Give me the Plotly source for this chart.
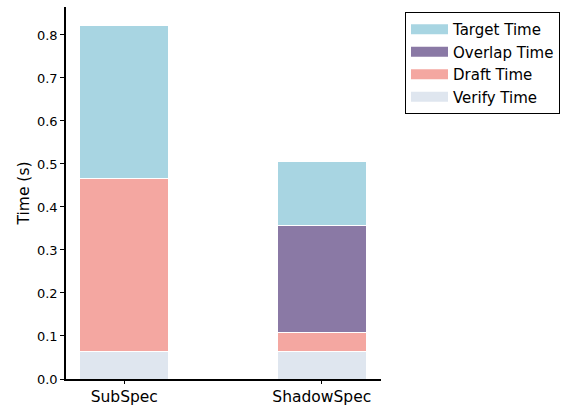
import plotly.graph_objects as go

# Per-method timing breakdown (seconds), stacked bottom to top
methods = ["SubSpec", "ShadowSpec"]
verify_time = [0.065, 0.065]
draft_time = [0.402, 0.043]
overlap_time = [None, 0.249]
target_time = [0.354, 0.148]

series = [
    ("Verify Time", verify_time, "#dfe6ef"),
    ("Draft Time", draft_time, "#f4a7a1"),
    ("Overlap Time", overlap_time, "#8a79a5"),
    ("Target Time", target_time, "#a8d5e2"),
]

fig = go.Figure()
for name, vals, color in series:
    fig.add_trace(go.Bar(
        x=[0, 1], y=vals, name=name, width=0.45, showlegend=False,
        marker=dict(color=color, line=dict(color="white", width=1)),
    ))
# Legend keys drawn as wide patches
for name, vals, color in series:
    fig.add_trace(go.Scatter(
        x=[None], y=[None], name=name, mode="lines",
        line=dict(color=color, width=10),
    ))

font = "DejaVu Sans, sans-serif"
fig.update_layout(
    barmode="stack",
    width=562, height=405,
    margin=dict(l=66, r=181, t=7, b=26, autoexpand=False),
    plot_bgcolor="white", paper_bgcolor="white",
    font=dict(family=font, size=13, color="black"),
    showlegend=True,
    legend=dict(
        traceorder="reversed",
        xref="container", yref="container",
        x=405 / 562, y=1 - 12 / 405, xanchor="left", yanchor="top",
        bordercolor="black", borderwidth=1,
        font=dict(size=15), bgcolor="white",
        itemwidth=37,
    ),
    xaxis=dict(
        range=[-0.295, 1.30],
        tickmode="array", tickvals=[0, 1], ticktext=methods,
        showline=True, linecolor="black", linewidth=1.5,
        ticks="outside", ticklen=3, tickcolor="black",
        showgrid=False, zeroline=False, automargin=False,
        tickfont=dict(size=15.5),
    ),
    yaxis=dict(
        range=[0, 0.865],
        tickvals=[0, 0.1, 0.2, 0.3, 0.4, 0.5, 0.6, 0.7, 0.8],
        tickformat=".1f",
        showline=True, linecolor="black", linewidth=1.5,
        ticks="outside", ticklen=4, tickcolor="black",
        showgrid=False, zeroline=False, automargin=False,
        tickfont=dict(size=13),
        title=dict(text="Time (s)", font=dict(size=15.5), standoff=4),
    ),
)

fig.write_html("out.html")
